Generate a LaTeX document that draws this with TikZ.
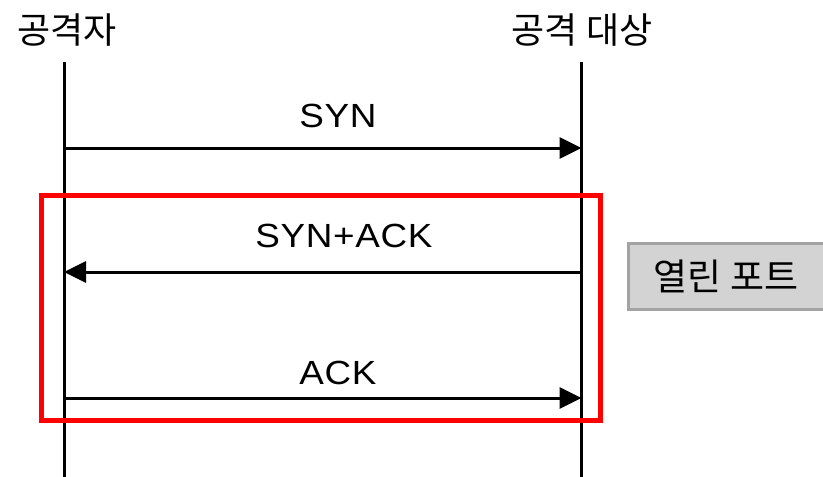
\documentclass[tikz,border=0pt]{standalone}
\usepackage{fontspec}
\setmainfont{Noto Sans CJK KR}
\newfontfamily\latinfont[FakeStretch=1.1, LetterSpace=2]{Liberation Sans}
\usetikzlibrary{arrows.meta, positioning}
\definecolor{boxgray}{HTML}{D3D3D3}
\definecolor{boxedge}{HTML}{A3A3A3}
\tikzset{
    actor/.style={inner sep=0pt, font=\fontsize{36}{40}\selectfont},
    lifeline/.style={line width=3pt},
    msg/.style={line width=3pt, -{Triangle[length=22pt, width=21pt]}},
    msglabel/.style={inner sep=0pt, font=\latinfont\fontsize{33.5}{38}\selectfont},
    frame/.style={draw=red, line width=5pt},
    tag/.style={draw=boxedge, fill=boxgray, line width=3pt, minimum width=196pt, minimum height=66pt, inner sep=0pt, font=\fontsize{37}{40}\selectfont}
}

\begin{document}
\begin{tikzpicture}[x=1pt, y=-1pt]
    \useasboundingbox (0,0) rectangle (823,477);
    \node[actor] (src) at (67,30) {공격자};
    \node[actor] (dst) at (582,30) {공격 대상};
    \coordinate (srctop) at (64,62);
    \coordinate (srcend) at (64,477);
    \coordinate (dsttop) at (581.5,62);
    \coordinate (dstend) at (581.5,477);
    \draw[lifeline] (srctop) -- (srcend);
    \draw[lifeline] (dsttop) -- (dstend);
    % messages
    \coordinate (s1) at (64,148);  \coordinate (d1) at (581.5,148);
    \coordinate (s2) at (64,272);  \coordinate (d2) at (581.5,272);
    \coordinate (s3) at (64,398);  \coordinate (d3) at (581.5,398);
    \draw[msg] (s1) -- (d1);
    \draw[msg] (d2) -- (s2);
    \draw[msg] (s3) -- (d3);
    \node[msglabel] (syn) at (338,116) {SYN};
    \node[msglabel] (synack) at (344,236) {SYN+ACK};
    \node[msglabel] (ack) at (338,373) {ACK};
    % handshake frame
    \draw[frame] (41.5,195) rectangle (600.5,420);
    \node[tag] (open) at (726,276) {열린 포트};
\end{tikzpicture}
\end{document}
